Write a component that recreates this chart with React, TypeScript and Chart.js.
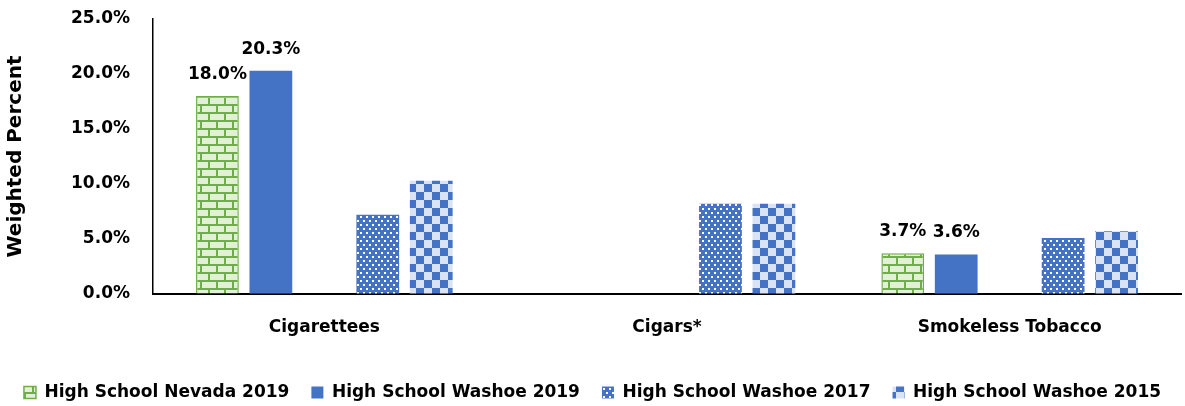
import { useEffect, useRef } from "react";
import { Chart, registerables } from "chart.js";

Chart.register(...registerables);

// Tobacco use categories and weighted percentages per survey group
const categories = ["Cigarettees", "Cigars*", "Smokeless Tobacco"];
const nevada2019 = [18.0, null, 3.7];
const washoe2019 = [20.3, null, 3.6];
const spacerSeries = [null, null, null];
const washoe2017 = [7.2, 8.2, 5.1];
const washoe2015 = [10.3, 8.2, 5.7];
const yTicks = [0, 5, 10, 15, 20, 25];

const FONT = "'DejaVu Sans', sans-serif";
const BLUE = "#4472C4";
const LIGHT_BLUE = "#DAE3F3";
const GREEN = "#70AD47";
const LIGHT_GREEN = "#E2EFDA";

function makeTile(w: number, h: number, paint: (c: CanvasRenderingContext2D) => void) {
  const tile = document.createElement("canvas");
  tile.width = w;
  tile.height = h;
  const c = tile.getContext("2d")!;
  paint(c);
  const probe = document.createElement("canvas").getContext("2d")!;
  return probe.createPattern(tile, "repeat")!;
}

// Brick fill: light green bricks with green mortar
function brickPattern() {
  return makeTile(16, 16, (c) => {
    c.fillStyle = LIGHT_GREEN;
    c.fillRect(0, 0, 16, 16);
    c.fillStyle = GREEN;
    c.fillRect(0, 0, 16, 2);
    c.fillRect(0, 8, 16, 2);
    c.fillRect(0, 2, 2, 6);
    c.fillRect(8, 10, 2, 6);
  });
}

// Blue fill with staggered small white dots
function dotPattern() {
  return makeTile(6, 8, (c) => {
    c.fillStyle = BLUE;
    c.fillRect(0, 0, 6, 8);
    c.fillStyle = "#FFFFFF";
    c.fillRect(0, 0, 2, 2);
    c.fillRect(3, 4, 2, 2);
  });
}

// Large blue / light blue checkerboard
function checkerPattern() {
  return makeTile(16, 16, (c) => {
    c.fillStyle = LIGHT_BLUE;
    c.fillRect(0, 0, 16, 16);
    c.fillStyle = BLUE;
    c.fillRect(0, 0, 8, 8);
    c.fillRect(8, 8, 8, 8);
  });
}

// Datasets whose bars carry a value label above them
const labelledSeries = [0, 1];

const valueLabels = {
  id: "valueLabels",
  afterDatasetsDraw(chart: any) {
    const ctx = chart.ctx;
    ctx.save();
    ctx.font = `bold 17px ${FONT}`;
    ctx.fillStyle = "#000000";
    ctx.textAlign = "center";
    ctx.textBaseline = "alphabetic";
    labelledSeries.forEach((di) => {
      const ds = chart.data.datasets[di];
      const meta = chart.getDatasetMeta(di);
      meta.data.forEach((bar: any, j: number) => {
        const v = ds.data[j];
        if (v === null || v === undefined) return;
        ctx.fillText(`${Number(v).toFixed(1)}%`, bar.x, bar.y - 17);
      });
    });
    ctx.restore();
  },
};

export default function App() {
  const canvasRef = useRef<HTMLCanvasElement | null>(null);

  useEffect(() => {
    if (!canvasRef.current) return;
    const chart = new Chart(canvasRef.current, {
      type: "bar",
      data: {
        labels: categories,
        datasets: [
          {
            label: "High School Nevada 2019",
            data: nevada2019,
            backgroundColor: brickPattern(),
            borderColor: GREEN,
            borderWidth: 1.5,
          },
          {
            label: "High School Washoe 2019",
            data: washoe2019,
            backgroundColor: BLUE,
            borderWidth: 0,
          },
          {
            label: "spacer",
            data: spacerSeries,
            backgroundColor: "transparent",
            borderWidth: 0,
          },
          {
            label: "High School Washoe 2017",
            data: washoe2017,
            backgroundColor: dotPattern(),
            borderWidth: 0,
          },
          {
            label: "High School Washoe 2015",
            data: washoe2015,
            backgroundColor: checkerPattern(),
            borderWidth: 0,
          },
        ],
      },
      options: {
        animation: false,
        responsive: true,
        maintainAspectRatio: false,
        layout: { padding: { top: 19, right: 0, left: 0, bottom: -5 } },
        datasets: { bar: { barPercentage: 0.8, categoryPercentage: 0.78 } },
        scales: {
          x: {
            grid: { drawOnChartArea: false, drawTicks: false },
            border: { display: true, color: "#000000", width: 2 },
            ticks: {
              color: "#000000",
              font: { family: FONT, size: 17, weight: "bold" },
              padding: 23,
            },
            afterFit(scale: any) {
              scale.height = 68;
              scale.paddingLeft = 0;
              scale.paddingRight = 4;
            },
          },
          y: {
            min: 0,
            max: 25,
            afterBuildTicks(scale: any) {
              scale.ticks = yTicks.map((v) => ({ value: v }));
            },
            grid: { drawOnChartArea: false, drawTicks: false },
            border: { display: true, color: "#000000", width: 1.5 },
            ticks: {
              color: "#000000",
              font: { family: FONT, size: 17, weight: "bold" },
              padding: 23,
              callback: (v: any) => `${Number(v).toFixed(1)}%`,
            },
            title: {
              display: true,
              text: "Weighted Percent",
              color: "#000000",
              font: { family: FONT, size: 20, weight: "bold" },
              padding: { top: 4, bottom: 0 },
            },
            afterFit(scale: any) {
              scale.width = 153;
              scale.paddingTop = 10;
              scale.paddingBottom = 10;
            },
          },
        },
        plugins: {
          legend: {
            position: "bottom",
            labels: {
              color: "#000000",
              boxWidth: 12,
              boxHeight: 12,
              padding: 22,
              font: { family: FONT, size: 17, weight: "bold" },
              filter: (item: any) => item.text !== "spacer",
            },
          },
          tooltip: { enabled: false },
        },
      },
      plugins: [valueLabels],
    });
    return () => chart.destroy();
  }, []);

  return (
    <div style={{ position: "absolute", left: 0, top: 0, width: 1185, height: 406 }}>
      <canvas ref={canvasRef} />
    </div>
  );
}
